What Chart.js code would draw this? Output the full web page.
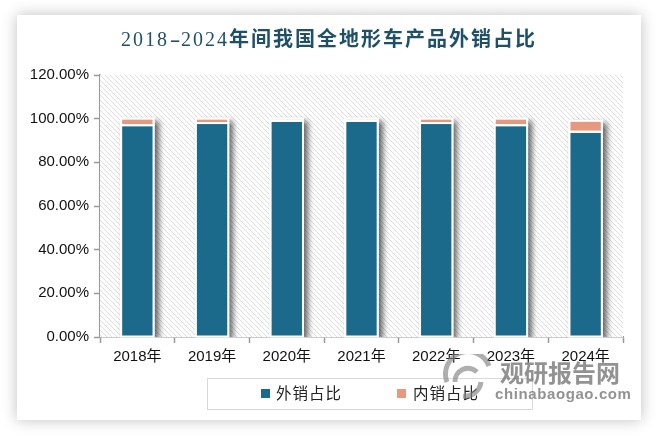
<!DOCTYPE html>
<html>
<head>
<meta charset="utf-8">
<style>
  html, body { margin: 0; padding: 0; background: #fff; }
  #wrap { position: relative; width: 659px; height: 436px; overflow: hidden; }
  #card { position: absolute; left: 17px; top: 15px; width: 624px; height: 405px; background: #fff; box-shadow: 0 0 14px rgba(0,0,0,.25); }
  #c { position: absolute; left: 0; top: 0; }
  #title { position: absolute; left: 0; top: 23px; width: 658px; text-align: center; font: bold 20px "Liberation Serif", "Noto Sans CJK SC"; letter-spacing: 2px; color: #1f5068; white-space: nowrap; }
  #title b { font-weight: normal; }
  #title em { display: inline-block; width: 12px; letter-spacing: 0; font-style: normal; font-weight: normal; transform: scaleX(1.6); }
  #legend { position: absolute; left: 207px; top: 378px; width: 324px; height: 30px; border: 1px solid #d9d9d9; font: 15.5px "Noto Sans CJK SC"; color: #222; }
  #legend span { position: absolute; top: 2px; white-space: nowrap; letter-spacing: 1px; }
  #legend i { position: absolute; top: 10px; width: 9px; height: 9px; }
  #mark { position: absolute; left: 500px; top: 354px; color: rgba(110,110,110,.75); font: bold 24px "Noto Sans CJK SC"; white-space: nowrap; }
  #mark2 { position: absolute; left: 495px; top: 385px; color: rgba(110,110,110,.75); font: bold 15px "Liberation Sans"; letter-spacing: .6px; white-space: nowrap; }
  #logo { position: absolute; left: 443px; top: 354px; }
</style>
</head>
<body>
<div id="wrap">
  <div id="card"></div>
  <canvas id="c" width="659" height="436"></canvas>
  <div id="title"><b>2018<em>-</em>2024</b>年间我国全地形车产品外销占比</div>
  <div id="legend"></div>
  <svg id="logo" width="50" height="46" viewBox="0 0 50 46" fill="none" stroke="rgba(130,130,130,.65)" stroke-width="5">
    <path d="M4 28 A21 21 0 0 1 46 12"/>
    <path d="M12 28 A13 13 0 0 1 34 18"/>
    <path d="M20 42 A16 16 0 0 0 38 28"/>
  </svg>
  <div id="mark">观研报告网</div>
  <div id="mark2">chinabaogao.com</div>
</div>
<script src="https://cdn.jsdelivr.net/npm/chart.js@4"></script>
<script>
const years = ['2018年', '2019年', '2020年', '2021年', '2022年', '2023年', '2024年']
const exportShare = [97, 98, 99, 99, 98, 97, 94]
const domesticShare = [3, 2, 1, 1, 2, 3, 5]
const seriesNames = ['外销占比', '内销占比']
const seriesColors = ['#1b6a8c', '#e59a7f']

function hatchPattern (ctx) {
  const p = document.createElement('canvas')
  p.width = p.height = 5
  const g = p.getContext('2d')
  g.fillStyle = '#fff'
  g.fillRect(0, 0, 5, 5)
  g.strokeStyle = '#dedede'
  g.lineWidth = 1
  g.beginPath()
  g.moveTo(-1, -1); g.lineTo(6, 6)
  g.moveTo(-1, 4); g.lineTo(1, 6)
  g.moveTo(4, -1); g.lineTo(6, 1)
  g.stroke()
  return ctx.createPattern(p, 'repeat')
}

// hatched plot, then a shadowed white block behind each stacked column
const plotBackground = {
  id: 'plotBackground',
  beforeDatasetsDraw (chart) {
    const { ctx, chartArea: a } = chart
    ctx.save()
    ctx.beginPath()
    ctx.rect(a.left, a.top, a.right - a.left, a.bottom - a.top)
    ctx.clip()
    ctx.fillStyle = hatchPattern(ctx)
    ctx.fillRect(a.left, a.top, a.right - a.left, a.bottom - a.top)
    ctx.shadowColor = 'rgba(0,0,0,.6)'
    ctx.shadowBlur = 6
    ctx.shadowOffsetX = 4
    ctx.shadowOffsetY = 3
    ctx.fillStyle = '#fff'
    const tops = chart.getDatasetMeta(1).data
    tops.forEach(bar => {
      ctx.fillRect(bar.x - bar.width / 2 - 1, bar.y - 1, bar.width + 2, a.bottom - bar.y + 1)
    })
    ctx.restore()
  }
}

// white outline centred on each bar edge
const barOutline = {
  id: 'barOutline',
  afterDatasetsDraw (chart) {
    const { ctx } = chart
    ctx.save()
    ctx.strokeStyle = '#fff'
    ctx.lineWidth = 2
    chart.data.datasets.forEach((ds, i) => {
      chart.getDatasetMeta(i).data.forEach(bar => {
        ctx.strokeRect(bar.x - bar.width / 2, bar.y, bar.width, bar.base - bar.y)
      })
    })
    ctx.restore()
  }
}

const chart = new Chart(document.getElementById('c').getContext('2d'), {
  type: 'bar',
  data: {
    labels: years,
    datasets: [
      { label: seriesNames[0], data: exportShare, backgroundColor: seriesColors[0] },
      { label: seriesNames[1], data: domesticShare, backgroundColor: seriesColors[1] }
    ]
  },
  options: {
    responsive: false,
    animation: false,
    layout: { padding: { left: 0, top: 75, right: 36, bottom: 59 } },
    datasets: { bar: { barPercentage: 0.433, categoryPercentage: 1 } },
    plugins: { legend: { display: false }, title: { display: false }, tooltip: { enabled: false } },
    scales: {
      x: {
        stacked: true,
        afterFit (s) { s.height = 40 },
        border: { color: '#999', width: 1.5 },
        grid: { drawOnChartArea: false, color: '#999', tickLength: 6, tickWidth: 1.5 },
        ticks: { color: '#111', padding: 5, maxRotation: 0, font: { family: '"Liberation Sans", "Noto Sans CJK SC"', size: 15 } }
      },
      y: {
        stacked: true,
        min: 0,
        max: 120,
        afterFit (s) { s.width = 100 },
        border: { color: '#999', width: 1.5 },
        grid: { drawOnChartArea: false, color: '#999', tickLength: 6, tickWidth: 1.5 },
        ticks: { stepSize: 20, color: '#111', padding: 5, callback: v => v.toFixed(2) + '%', font: { family: '"Liberation Sans"', size: 15 } }
      }
    }
  },
  plugins: [plotBackground, barOutline]
})

const legendBox = document.getElementById('legend')
chart.data.datasets.forEach((ds, i) => {
  const swatch = document.createElement('i')
  swatch.style.left = (i ? 189 : 53) + 'px'
  swatch.style.background = ds.backgroundColor
  const text = document.createElement('span')
  text.style.left = (i ? 205 : 68) + 'px'
  text.textContent = ds.label
  legendBox.append(swatch, text)
})
</script>
</body>
</html>
